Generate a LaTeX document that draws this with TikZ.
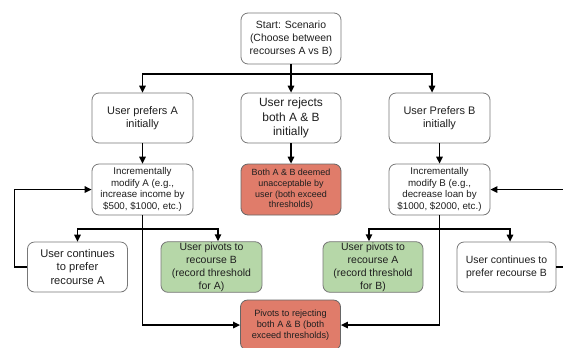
\documentclass[tikz,border=0pt]{standalone}
\usepackage{fontspec}
\setmainfont{Liberation Sans}
\usetikzlibrary{arrows.meta}
\definecolor{redbox}{RGB}{224,124,106}
\definecolor{greenbox}{RGB}{182,215,168}
\definecolor{boxline}{RGB}{120,120,120}
\begin{document}
\begin{tikzpicture}[x=1bp,y=-1bp,
  box/.style={draw=boxline, line width=0.8bp, rounded corners=7bp, align=center,
    inner sep=1bp, minimum width=100bp, minimum height=50bp, text=black!88},
  redb/.style={box, fill=redbox, draw=black!60},
  greenb/.style={box, fill=greenbox},
  conn/.style={line width=1.4bp, black},
  arr/.style={conn, -{Triangle[length=7bp,width=6.5bp]}},
  fa/.style={font=\fontsize{10.5}{13.2}\selectfont},
  fb/.style={font=\fontsize{11}{13.7}\selectfont},
  fc/.style={font=\fontsize{12}{14.3}\selectfont},
  fd/.style={font=\fontsize{9.8}{11.7}\selectfont},
  fe/.style={font=\fontsize{9}{10.8}\selectfont},
  ff/.style={font=\fontsize{11.2}{13.5}\selectfont},
  fg/.style={font=\fontsize{10.5}{13}\selectfont},
  fh/.style={font=\fontsize{9.2}{10.8}\selectfont}]
\path[use as bounding box] (0,0) rectangle (563,347);
\clip (0,0) rectangle (563,347);
\fill[white] (0,0) rectangle (563,347);

\node[box,fa,minimum height=51bp] (start) at (291,38.5) {Start: Scenario\\(Choose between\\recourses A vs B)};
\node[box,fb,minimum width=101bp] (prefA) at (142.5,118) {User prefers A\\initially};
\node[box,fc] (rej) at (291,118) {User rejects\\both A \& B\\initially};
\node[box,fb,minimum width=101bp] (prefB) at (439.5,118) {User Prefers B\\initially};

\node[box,fd,minimum width=101bp,minimum height=51bp] (modA) at (142.5,189.5) {Incrementally\\modify A (e.g.,\\increase income by\\\$500, \$1000, etc.)};
\node[redb,fe,minimum height=51bp] (red1) at (291,189.5) {Both A \& B deemed\\unacceptable by\\user (both exceed\\thresholds)};
\node[box,fd,minimum width=101bp,minimum height=51bp] (modB) at (439.5,189.5) {Incrementally\\modify B (e.g.,\\decrease loan by\\\$1000, \$2000, etc.)};

\node[box,ff] (contA) at (77.5,267) {User continues\\to prefer\\recourse A};
\node[greenb,fg,minimum width=101bp] (pivB) at (211.5,267) {User pivots to\\recourse B\\(record threshold\\for A)};
\node[greenb,fg] (pivA) at (373,267) {User pivots to\\recourse A\\(record threshold\\for B)};
\node[box,fg,minimum width=99bp] (contB) at (506.5,267) {User continues to\\prefer recourse B};

\node[redb,fh] (red2) at (290.5,325) {Pivots to rejecting\\both A \& B (both\\exceed thresholds)};

\coordinate (j0) at (291,74);
\coordinate (sA) at (142.5,229);
\coordinate (sB) at (439.5,229);

\draw[conn] (start.south) -- (j0);
\draw[arr] (j0) -| (prefA.north);
\draw[arr] (j0) -- (rej.north);
\draw[arr] (j0) -| ([xshift=-7.5bp]prefB.north);

\draw[arr] (prefA.south) -- (modA.north);
\draw[arr] (rej.south) -- (red1.north);
\draw[arr] (prefB.south) -- (modB.north);

\draw[arr] (modA.south) |- (red2.west);
\draw[arr] (modB.south) |- (red2.east);

\draw[arr] (sA) -| (contA.north);
\draw[arr] (sA) -| ([xshift=6.5bp]pivB.north);
\draw[arr] (sB) -| ([xshift=-4bp]pivA.north);
\draw[arr] (sB) -| ([xshift=3.5bp]contB.north);

\draw[arr] (contA.west) -- ++(-12.5,0) |- (modA.west);
\draw[arr] (contB.east) -- ++(25,0) |- (modB.east);
\end{tikzpicture}
\end{document}
